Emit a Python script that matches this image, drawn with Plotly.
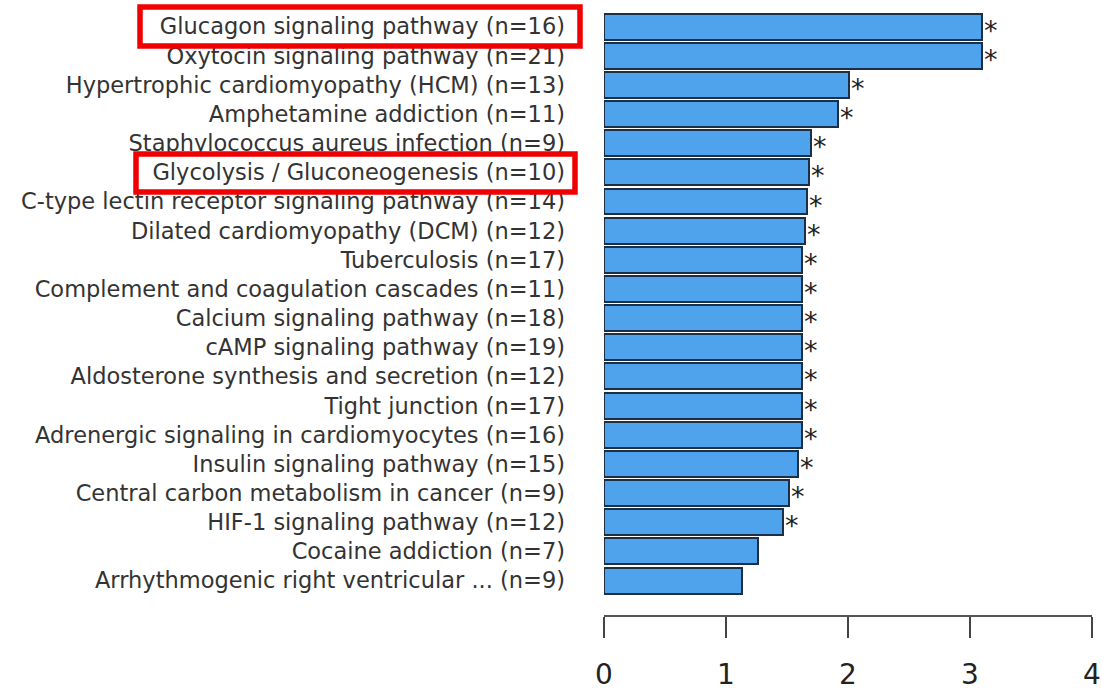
import plotly.graph_objects as go

# KEGG pathway enrichment, top 20 pathways
pathways = [
    "Glucagon signaling pathway (n=16)",
    "Oxytocin signaling pathway (n=21)",
    "Hypertrophic cardiomyopathy (HCM) (n=13)",
    "Amphetamine addiction (n=11)",
    "Staphylococcus aureus infection (n=9)",
    "Glycolysis / Gluconeogenesis (n=10)",
    "C-type lectin receptor signaling pathway (n=14)",
    "Dilated cardiomyopathy (DCM) (n=12)",
    "Tuberculosis (n=17)",
    "Complement and coagulation cascades (n=11)",
    "Calcium signaling pathway (n=18)",
    "cAMP signaling pathway (n=19)",
    "Aldosterone synthesis and secretion (n=12)",
    "Tight junction (n=17)",
    "Adrenergic signaling in cardiomyocytes (n=16)",
    "Insulin signaling pathway (n=15)",
    "Central carbon metabolism in cancer (n=9)",
    "HIF-1 signaling pathway (n=12)",
    "Cocaine addiction (n=7)",
    "Arrhythmogenic right ventricular ... (n=9)",
]
neg_log_p = [3.10, 3.10, 2.01, 1.92, 1.70, 1.68, 1.66, 1.65, 1.62, 1.62,
             1.62, 1.62, 1.62, 1.62, 1.62, 1.59, 1.52, 1.47, 1.26, 1.13]
significant = [True] * 18 + [False] * 2
x_ticks = [0, 1, 2, 3, 4]
highlighted = ["Glucagon signaling pathway (n=16)",
               "Glycolysis / Gluconeogenesis (n=10)"]

positions = list(range(len(pathways)))

fig = go.Figure()
fig.add_trace(go.Bar(
    x=neg_log_p,
    y=positions,
    orientation="h",
    width=0.89,
    marker=dict(color="#4fa2ec", line=dict(color="#1c2f44", width=2)),
    hoverinfo="x+y",
))

# significance stars right of each bar
for pos, val, sig in zip(positions, neg_log_p, significant):
    if sig:
        fig.add_annotation(
            x=val, y=pos, xref="x", yref="y",
            text="*", showarrow=False,
            xanchor="left", yanchor="middle",
            height=22, valign="middle",
            xshift=0, yshift=-3,
            font=dict(family="DejaVu Sans", size=27, color="#1e1e1e"),
        )

# red boxes around highlighted pathway labels (pixel outline positions)
box_px = {
    highlighted[0]: (140, 580, 7, 46),
    highlighted[1]: (136, 575, 154, 192),
}
W, H = 1102, 699
for name, (x0, x1, y0, y1) in box_px.items():
    fig.add_shape(
        type="rect", xref="paper", yref="paper",
        x0=(x0 - 604) / (1092 - 604), x1=(x1 - 604) / (1092 - 604),
        y0=1 - y1 / 615, y1=1 - y0 / 615,
        line=dict(color="#f00000", width=5.5),
        fillcolor="rgba(0,0,0,0)",
    )

fig.update_layout(
    width=W, height=H,
    margin=dict(l=604, r=10, t=0, b=84),
    plot_bgcolor="white",
    paper_bgcolor="white",
    showlegend=False,
    bargap=0,
)
fig.update_xaxes(
    range=[0, 4],
    tickvals=x_ticks,
    ticktext=[str(t) for t in x_ticks],
    showgrid=False, zeroline=False,
    showline=True, linecolor="#555555", linewidth=2,
    ticks="outside", ticklen=21, tickwidth=2, tickcolor="#444444",
    ticklabelstandoff=12,
    tickfont=dict(family="DejaVu Sans", size=28, color="#222222"),
    fixedrange=True,
)
fig.update_yaxes(
    range=[20.18, -0.91],
    tickvals=positions,
    ticktext=pathways,
    showgrid=False, zeroline=False, showline=False,
    ticks="",
    ticklabelstandoff=38,
    tickfont=dict(family="DejaVu Sans", size=22.5, color="#333333"),
    fixedrange=True,
)

fig.write_html("out.html")
